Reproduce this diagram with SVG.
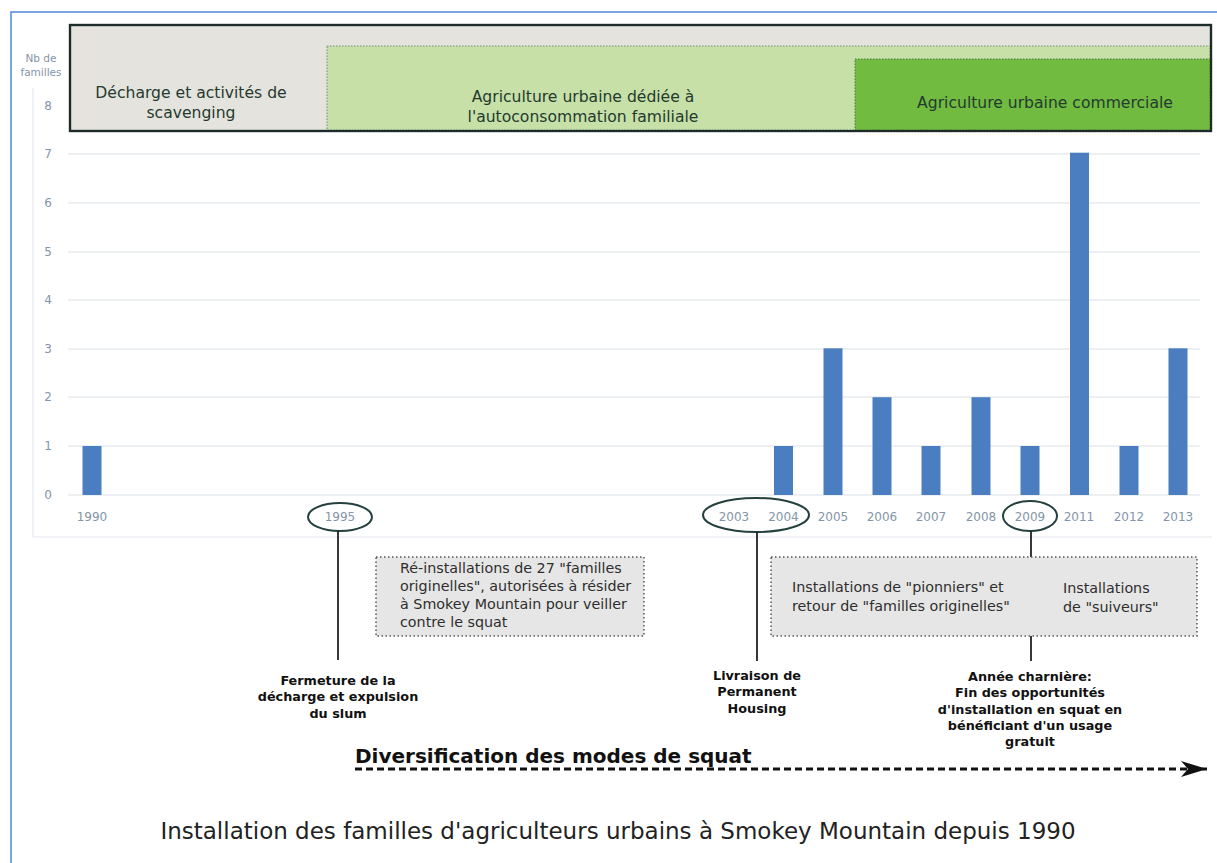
<svg xmlns="http://www.w3.org/2000/svg" width="1217" height="863" viewBox="0 0 1217 863">
<style>
.ax{font-family:"DejaVu Sans",Verdana,sans-serif;font-size:12px;fill:#8395a8;text-anchor:middle}
.yr{font-family:"DejaVu Sans",Verdana,sans-serif;font-size:12px;fill:#8395a8;text-anchor:middle}
.ph{font-family:"DejaVu Sans",Verdana,sans-serif;font-size:15.6px;fill:#243a2e;text-anchor:middle}
.nt{font-family:"DejaVu Sans",Verdana,sans-serif;font-size:14.3px;fill:#2e2e2e}
.ev{font-family:"DejaVu Sans",Verdana,sans-serif;font-size:12.8px;font-weight:bold;fill:#111;text-anchor:middle}
.grid{stroke:#dbe1e8;stroke-width:1.2}
.bar{fill:#4a7ec0}
.ell{fill:none;stroke:#24403f;stroke-width:2}
.box{fill:#e6e6e6;stroke:#555;stroke-width:1.5;stroke-dasharray:1.5 2.5}
.con{stroke:#222;stroke-width:1.8;fill:none}
</style>
<defs>
<marker id="ah" markerWidth="28" markerHeight="16" refX="26" refY="8" orient="auto" markerUnits="userSpaceOnUse">
<path d="M0,0 L26,8 L0,16 L7,8 Z" fill="#111"/>
</marker>
</defs>
<rect x="0" y="0" width="1217" height="863" fill="#fff"/>
<rect x="11" y="12" width="1230" height="880" fill="none" stroke="#5b8fd6" stroke-width="1.6"/>

<g id="chart-frame">
<path d="M33,88 V537 H1212" fill="none" stroke="#e3e8ee" stroke-width="1.2"/>
<line class="grid" x1="68" y1="495" x2="1200" y2="495"/>
<line class="grid" x1="68" y1="446" x2="1200" y2="446"/>
<line class="grid" x1="68" y1="397" x2="1200" y2="397"/>
<line class="grid" x1="68" y1="349" x2="1200" y2="349"/>
<line class="grid" x1="68" y1="300" x2="1200" y2="300"/>
<line class="grid" x1="68" y1="252" x2="1200" y2="252"/>
<line class="grid" x1="68" y1="203" x2="1200" y2="203"/>
<line class="grid" x1="68" y1="154" x2="1200" y2="154"/>
</g>

<g id="y-axis">
<text class="ax" x="41" y="62" style="font-size:10.5px">Nb de</text>
<text class="ax" x="41" y="76" style="font-size:10.5px">familles</text>
<text class="ax" x="48" y="110">8</text>
<text class="ax" x="48" y="158">7</text>
<text class="ax" x="48" y="207">6</text>
<text class="ax" x="48" y="256">5</text>
<text class="ax" x="48" y="304">4</text>
<text class="ax" x="48" y="353">3</text>
<text class="ax" x="48" y="401">2</text>
<text class="ax" x="48" y="450">1</text>
<text class="ax" x="48" y="499">0</text>
</g>

<g id="phases">
<g id="phase-decharge">
<rect x="70" y="25" width="1141" height="106" fill="#e5e3dd" stroke="#1e2b2b" stroke-width="2.2"/>
<text class="ph" x="191" y="98">Décharge et activités de</text>
<text class="ph" x="191" y="118">scavenging</text>
</g>
<g id="phase-autoconso">
<rect x="327" y="46" width="883" height="84" fill="#c6e0a8" stroke="#6a8f7a" stroke-width="1" stroke-dasharray="1.5 1.5"/>
<text class="ph" x="583" y="102">Agriculture urbaine dédiée à</text>
<text class="ph" x="583" y="122">l'autoconsommation familiale</text>
</g>
<g id="phase-commerciale">
<rect x="855" y="59" width="355" height="71" fill="#70bb40" stroke="#4d7a40" stroke-width="1" stroke-dasharray="1.5 1.5"/>
<text class="ph" x="1045" y="108">Agriculture urbaine commerciale</text>
</g>
<rect x="70" y="25" width="1141" height="106" fill="none" stroke="#1e2b2b" stroke-width="2.2"/>
</g>

<g id="bars">
<rect class="bar" x="82.5" y="446" width="19" height="49"/>
<rect class="bar" x="774" y="446" width="19" height="49"/>
<rect class="bar" x="823.5" y="348.3" width="19" height="146.7"/>
<rect class="bar" x="872.5" y="397.2" width="19" height="97.8"/>
<rect class="bar" x="921.5" y="446" width="19" height="49"/>
<rect class="bar" x="971.5" y="397.2" width="19" height="97.8"/>
<rect class="bar" x="1020.5" y="446" width="19" height="49"/>
<rect class="bar" x="1070" y="152.7" width="19" height="342.3"/>
<rect class="bar" x="1119.5" y="446" width="19" height="49"/>
<rect class="bar" x="1168.5" y="348.3" width="19" height="146.7"/>
</g>

<g id="x-axis">
<text class="yr" x="92" y="521">1990</text>
<text class="yr" x="340" y="521">1995</text>
<text class="yr" x="734" y="521">2003</text>
<text class="yr" x="783.5" y="521">2004</text>
<text class="yr" x="833" y="521">2005</text>
<text class="yr" x="882" y="521">2006</text>
<text class="yr" x="931" y="521">2007</text>
<text class="yr" x="981" y="521">2008</text>
<text class="yr" x="1030" y="521">2009</text>
<text class="yr" x="1079" y="521">2011</text>
<text class="yr" x="1129" y="521">2012</text>
<text class="yr" x="1178" y="521">2013</text>
</g>

<g id="highlights">
<ellipse id="ell-1995" class="ell" cx="340" cy="517" rx="32" ry="14"/>
<ellipse id="ell-2003" class="ell" cx="756" cy="515" rx="53" ry="17"/>
<ellipse id="ell-2009" class="ell" cx="1030" cy="516" rx="27" ry="15"/>
</g>

<g id="connectors">
<line class="con" x1="338" y1="531" x2="338" y2="660"/>
<line class="con" x1="757" y1="532" x2="757" y2="661"/>
<line class="con" x1="1031" y1="531" x2="1031" y2="661"/>
<line x1="355" y1="769" x2="1207" y2="769" stroke="#111" stroke-width="2.8" stroke-dasharray="7 4" marker-end="url(#ah)"/>
</g>

<g id="note-reinstallations">
<rect class="box" x="376" y="557" width="268" height="79"/>
<text class="nt" x="400" y="573">Ré-installations de 27 "familles</text>
<text class="nt" x="400" y="591">originelles", autorisées à résider</text>
<text class="nt" x="400" y="609">à Smokey Mountain pour veiller</text>
<text class="nt" x="400" y="627">contre le squat</text>
</g>

<g id="note-installations">
<rect class="box" x="771" y="557" width="426" height="79"/>
<text class="nt" x="792" y="592">Installations de "pionniers" et</text>
<text class="nt" x="792" y="611">retour de "familles originelles"</text>
<text class="nt" x="1063" y="593">Installations</text>
<text class="nt" x="1063" y="612">de "suiveurs"</text>
</g>

<g id="event-1995">
<text class="ev" x="338" y="685">Fermeture de la</text>
<text class="ev" x="338" y="701">décharge et expulsion</text>
<text class="ev" x="338" y="718">du slum</text>
</g>

<g id="event-2003">
<text class="ev" x="757" y="680">Livraison de</text>
<text class="ev" x="757" y="696">Permanent</text>
<text class="ev" x="757" y="713">Housing</text>
</g>

<g id="event-2009">
<text class="ev" x="1030" y="681">Année charnière:</text>
<text class="ev" x="1030" y="697">Fin des opportunités</text>
<text class="ev" x="1030" y="714">d'installation en squat en</text>
<text class="ev" x="1030" y="730">bénéficiant d'un usage</text>
<text class="ev" x="1030" y="746">gratuit</text>
</g>

<g id="diversification">
<text x="355" y="763" font-family="'DejaVu Sans',Verdana,sans-serif" font-size="20" font-weight="bold" fill="#111">Diversification des modes de squat</text>
</g>

<g id="caption">
<text x="618" y="839" text-anchor="middle" font-family="'DejaVu Sans',Verdana,sans-serif" font-size="23" fill="#222">Installation des familles d'agriculteurs urbains à Smokey Mountain depuis 1990</text>
</g>
</svg>
